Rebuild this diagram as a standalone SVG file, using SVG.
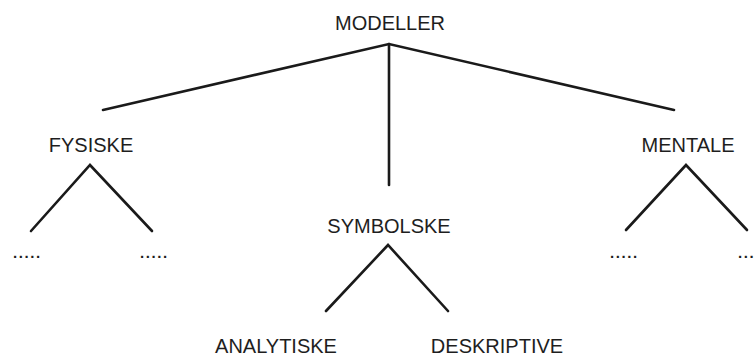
<svg xmlns="http://www.w3.org/2000/svg" width="754" height="357" viewBox="0 0 754 357">
  <style>
    .lbl { font-family: "Liberation Sans", Arial, sans-serif; font-size: 20px; fill: #1e1e1e; text-anchor: middle; }
    .dots { font-family: "Liberation Sans", Arial, sans-serif; font-size: 15px; font-weight: bold; letter-spacing: 1.6px; fill: #1e1e1e; }
    .edge { stroke: #1a1a1a; stroke-width: 2.6; fill: none; stroke-linecap: round; stroke-linejoin: miter; }
  </style>
  <rect width="754" height="357" fill="#ffffff"/>

  <!-- tree branches -->
  <g id="connectors">
    <polyline class="edge" points="103,110 389,44 674,110"/>
    <line class="edge" x1="389" y1="44" x2="389" y2="185"/>
    <polyline class="edge" points="31,231 90,165 152,231"/>
    <polyline class="edge" points="326,311 388,245 448,311"/>
    <polyline class="edge" points="626,230 686,165 747,230"/>
  </g>

  <g id="modeller">
    <text class="lbl" x="390" y="30">MODELLER</text>
  </g>
  <g id="fysiske">
    <text class="lbl" x="91" y="152">FYSISKE</text>
  </g>
  <g id="symbolske">
    <text class="lbl" x="389" y="233">SYMBOLSKE</text>
  </g>
  <g id="mentale">
    <text class="lbl" x="688" y="152">MENTALE</text>
  </g>
  <g id="analytiske">
    <text class="lbl" x="276" y="353">ANALYTISKE</text>
  </g>
  <g id="deskriptive">
    <text class="lbl" x="497" y="353">DESKRIPTIVE</text>
  </g>
  <g id="fysiske-left">
    <text class="dots" x="13" y="258">.....</text>
  </g>
  <g id="fysiske-right">
    <text class="dots" x="140" y="258">.....</text>
  </g>
  <g id="mentale-left">
    <text class="dots" x="610" y="258">.....</text>
  </g>
  <g id="mentale-right">
    <text class="dots" x="738" y="258">...</text>
  </g>
</svg>
